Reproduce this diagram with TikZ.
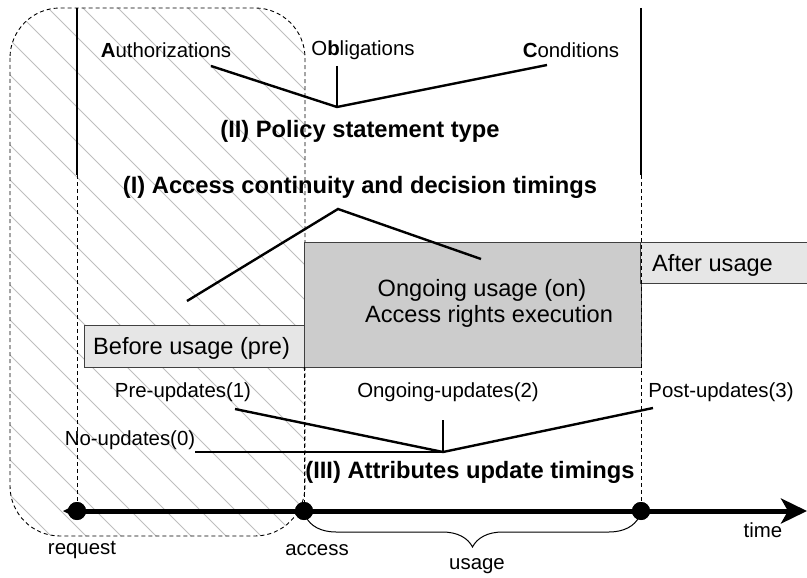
\documentclass[tikz,border=0pt]{standalone}
\usepackage{fontspec}
\setmainfont{Liberation Sans}
\usetikzlibrary{arrows.meta,decorations.pathreplacing}
\definecolor{boxlight}{HTML}{E6E6E6}
\definecolor{boxdark}{HTML}{CCCCCC}
\definecolor{hatchgray}{HTML}{BEBEBE}
\tikzset{
  lbl/.style={inner sep=0pt, font=\fontsize{20.4}{24}\selectfont},
  boxtxt/.style={inner sep=0pt, font=\fontsize{23.6}{28}\selectfont},
  headtxt/.style={inner sep=0pt, font=\fontsize{23.7}{28}\selectfont\bfseries},
  conn/.style={line width=2.4pt},
  guide/.style={dash pattern=on 4pt off 3pt, line width=0.9pt},
  solidguide/.style={line width=2.6pt},
  phase/.style={draw=black!75, line width=1pt},
  dot/.style={circle, fill=black, inner sep=0pt, minimum size=18pt},
}
\begin{document}
\begin{tikzpicture}[x=1pt,y=-1pt]
\useasboundingbox (0,0) rectangle (807,578);

% hatched pre-decision area
\begin{scope}
  \clip[rounded corners=50pt] (10,8) rectangle (305,536);
  \foreach \c in {-590,-555,...,320}
    \draw[hatchgray, line width=1pt] (\c,0) -- ++(600,600);
\end{scope}
\draw[guide, rounded corners=50pt] (10,8) rectangle (305,536);

% phase boxes
\node[phase, fill=boxlight, minimum width=220pt, minimum height=42pt, anchor=north west, inner sep=0pt] (pre) at (84,325) {};
\node[boxtxt, anchor=west] (pretxt) at (93,348) {Before usage (pre)};
\node[phase, fill=boxdark, minimum width=337pt, minimum height=125pt, anchor=north west, inner sep=0pt] (ongoing) at (304,242) {};
\node[boxtxt] (ongoing1) at (482,290) {Ongoing usage (on)};
\node[boxtxt] (ongoing2) at (489,316) {Access rights execution};
\node[phase, fill=boxlight, minimum width=180pt, minimum height=41pt, anchor=north west, inner sep=0pt] (post) at (640,242) {};
\node[boxtxt, anchor=west] (posttxt) at (652,265) {After usage};

% time markers
\coordinate (reqtop) at (77,8);
\coordinate (reqmid) at (77,175);
\coordinate (endtop) at (641,8);
\coordinate (endmid) at (641,175);
\node[dot] (req) at (77,511) {};
\node[dot] (acc) at (304,511) {};
\node[dot] (fin) at (641,511) {};
\coordinate (acctop) at (304,367);
\draw[solidguide] (reqtop) -- (reqmid);
\draw[guide] (reqmid) -- (req.center);
\draw[solidguide] (endtop) -- (endmid);
\draw[guide] (endmid) -- (fin.center);
\draw[guide] (acctop) -- (acc.center);

% time axis
\coordinate (tail) at (63,511);
\coordinate (head) at (807,511);
\fill (tail) -- (77,504) -- (77,518) -- cycle;
\draw[line width=5pt, -{Stealth[length=26pt,width=25pt,inset=7pt]}] (req.center) -- (head);
\node[dot] at (req) {};
\node[dot] at (acc) {};
\node[dot] at (fin) {};
\draw[line width=1pt, decorate, decoration={brace, mirror, amplitude=30pt}] (306,517) -- (639,517);
\node[lbl] (lreq) at (82,550) {request};
\node[lbl] (lacc) at (317,550) {access};
\node[lbl] (lusage) at (477,566) {usage};
\node[lbl] (ltime) at (763,530) {time};

% (II) policy statement type
\node[lbl] (auth) at (166,50) {\textbf{A}uthorizations};
\node[lbl] (obl) at (363,50) {O\textbf{b}ligations};
\node[lbl] (cond) at (571,50) {\textbf{C}onditions};
\node[headtxt] (pst) at (360,131) {(II) Policy statement type};
\coordinate (pj) at (337,107);
\coordinate (pa) at (211,66);
\coordinate (po) at (337,66);
\coordinate (pc) at (547,65);
\draw[conn] (pa) -- (pj) -- (pc);
\draw[conn] (po) -- (pj);

% (I) access continuity
\node[headtxt] (act) at (360,187) {(I) Access continuity and decision timings};
\coordinate (aj) at (338,209);
\coordinate (al) at (187,301);
\coordinate (ar) at (481,259);
\draw[conn] (al) -- (aj) -- (ar);

% (III) attribute update timings
\node[lbl] (upd1) at (183,392) {Pre-updates(1)};
\node[lbl] (upd0) at (130,440) {No-updates(0)};
\node[lbl] (upd2) at (448,392) {Ongoing-updates(2)};
\node[lbl] (upd3) at (721,392) {Post-updates(3)};
\node[headtxt] (aut) at (470,472) {(III) Attributes update timings};
\coordinate (uj) at (443,452);
\coordinate (u1) at (235,409);
\coordinate (u0) at (195,452);
\coordinate (u2) at (443,420);
\coordinate (u3) at (653,408);
\draw[conn] (u1) -- (uj) -- (u3);
\draw[conn] (u0) -- (uj);
\draw[conn] (u2) -- (uj);
\end{tikzpicture}
\end{document}
